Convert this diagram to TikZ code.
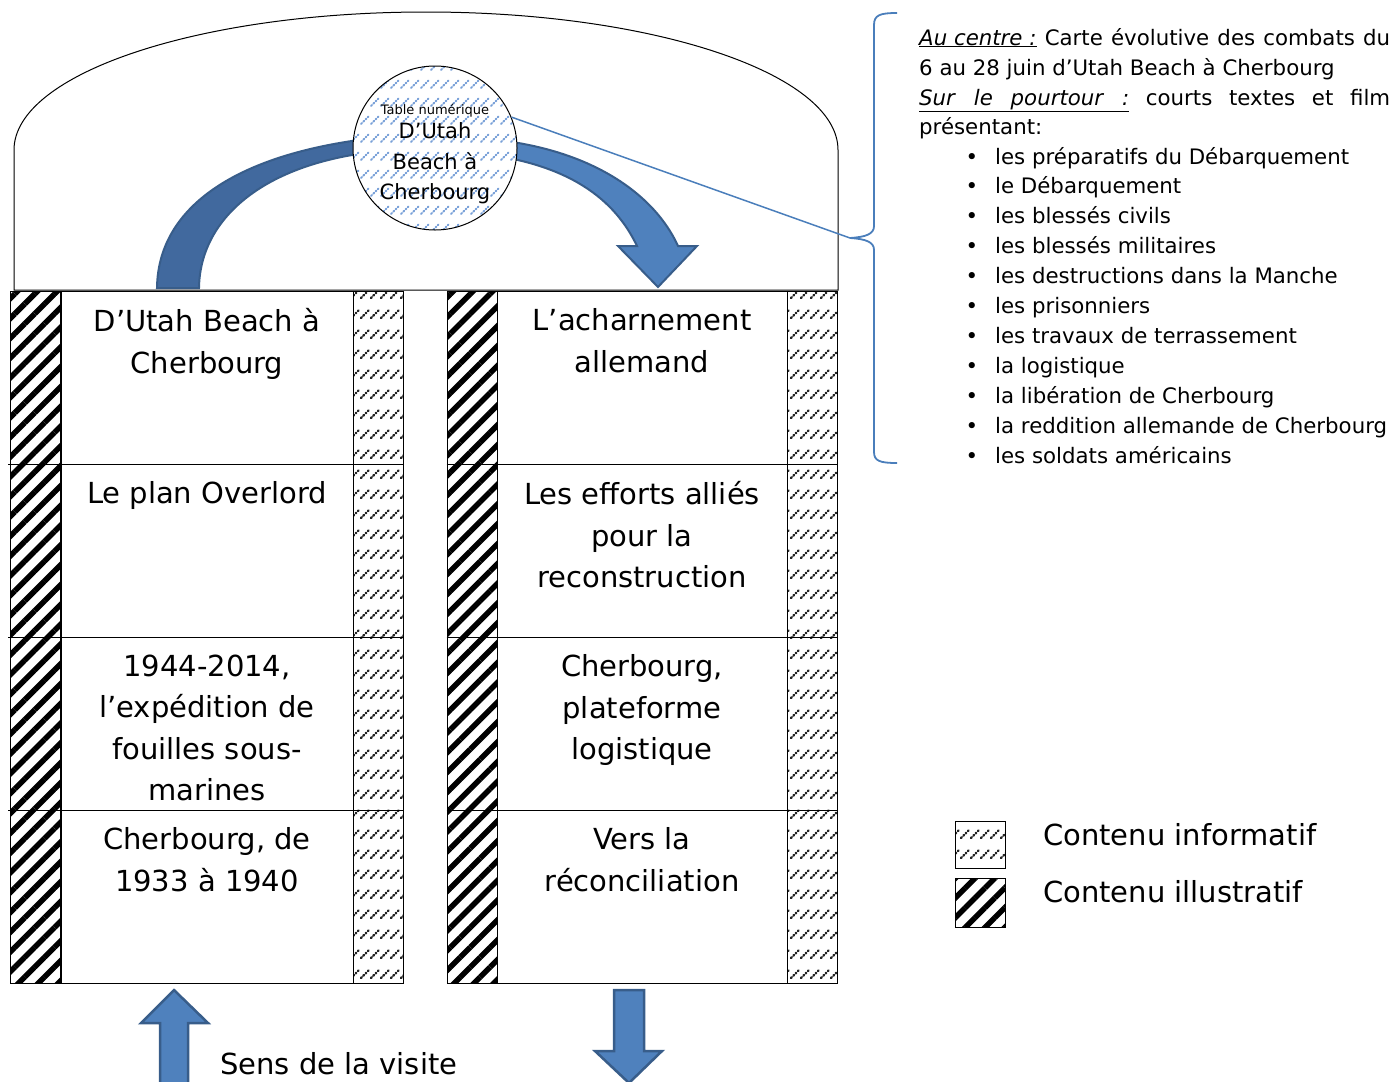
\documentclass[tikz,border=0pt]{standalone}
\usepackage{fontspec}
\setmainfont{DejaVu Sans}
\usetikzlibrary{patterns,patterns.meta}
\definecolor{arrowfill}{HTML}{4F81BD}
\definecolor{arrowedge}{HTML}{385D8A}
\definecolor{arrowdark}{HTML}{41699E}
\definecolor{linkblue}{HTML}{4A7EBB}
\definecolor{dotblue}{HTML}{78A0D8}
\pgfdeclarepatternformonly{infodash}{\pgfqpoint{-1bp}{-1bp}}{\pgfqpoint{11bp}{21bp}}{\pgfqpoint{10bp}{20bp}}{%
  \pgfsetlinewidth{2.2bp}\pgfsetroundcap\pgfsetdash{{1.2bp}{2.0bp}}{0bp}%
  \pgfpathmoveto{\pgfqpoint{1bp}{3bp}}\pgfpathlineto{\pgfqpoint{8.5bp}{10.5bp}}\pgfusepath{stroke}}
\pgfdeclarepatternformonly{infodashc}{\pgfqpoint{-1bp}{-1bp}}{\pgfqpoint{11bp}{19bp}}{\pgfqpoint{10bp}{18bp}}{%
  \pgfsetlinewidth{2bp}\pgfsetroundcap\pgfsetdash{{1.2bp}{2.0bp}}{0bp}%
  \pgfpathmoveto{\pgfqpoint{1bp}{3bp}}\pgfpathlineto{\pgfqpoint{8.5bp}{10.5bp}}\pgfusepath{stroke}}
\tikzset{
  info/.style={draw, line width=1bp, pattern=infodash, pattern color=black!85, inner sep=0},
  illus/.style={draw, line width=1bp, pattern={Lines[angle=45,distance=14bp,line width=5.5bp]}, inner sep=0},
  cellbox/.style={draw, line width=1bp, inner sep=0, minimum height=173bp},
  boxtext/.style={anchor=north, inner sep=0, align=center, font=\fontsize{29bp}{41.5bp}\selectfont},
  rtext/.style={anchor=base west, inner sep=0, font=\fontsize{21.3bp}{25bp}\selectfont},
  bigtext/.style={anchor=base west, inner sep=0, font=\fontsize{29bp}{34bp}\selectfont},
  bluearrow/.style={fill=arrowfill, draw=arrowedge, line width=2.5bp, line join=miter},
}
\begin{document}
\begin{tikzpicture}[x=1bp,y=-1bp]
\useasboundingbox (0,0) rectangle (1394,1081);
% dome
\draw[line width=1bp] (14,290) -- (14,150) arc[start angle=180,end angle=360,x radius=412,y radius=138] -- (838,290) -- cycle;
% curved arrow (left part and right part, passing behind the circle)
\filldraw[fill=arrowdark, draw=arrowedge, line width=2bp]
  (157,288) .. controls (158,200) and (250,148) .. (395,136)
  -- (395,150) .. controls (270,158) and (200,215) .. (199,288) -- cycle;
\filldraw[fill=arrowfill, draw=arrowedge, line width=2bp, line join=miter]
  (475,138) .. controls (590,145) and (655,195) .. (678,246)
  -- (697,246) -- (658,287) -- (618,246) -- (637,246)
  .. controls (615,200) and (570,163) .. (475,153) -- cycle;
% central table
\node[circle, draw, line width=1bp, preaction={fill=white}, pattern=infodashc, pattern color=dotblue,
      minimum size=164bp, inner sep=0] (C) at (435,148) {};
\node[inner sep=0, align=center, font=\fontsize{21bp}{30.5bp}\selectfont, yshift=-6bp]
  (Ct) at (C.center) {{\fontsize{13bp}{15bp}\selectfont Table numérique}\\[-6bp]D’Utah\\Beach à\\Cherbourg};
% bracket and link
\coordinate (brtip) at (850,238);
\draw[linkblue, line width=1.5bp] (C.22) -- (brtip);
\draw[linkblue, line width=1.8bp] (897,13) .. controls (880,13) and (874,15) .. (874,25) -- (874,226)
  .. controls (874,234) and (866,237) .. (brtip) .. controls (866,239) and (874,242) .. (874,250)
  -- (874,452) .. controls (874,461) and (880,463) .. (897,463);
% left column
\node[illus, minimum width=50bp, minimum height=692bp] (LI) at (36,637) {};
\node[info, minimum width=50bp, minimum height=692bp] (LC) at (378,637) {};
\node[cellbox, minimum width=292bp] (L1) at (207,377.5) {};
\node[cellbox, minimum width=292bp] (L2) at (207,550.5) {};
\node[cellbox, minimum width=292bp] (L3) at (207,723.5) {};
\node[cellbox, minimum width=292bp] (L4) at (207,896.5) {};
\foreach \r in {L1,L2,L3} \draw[line width=1bp] (LI.west |- \r.south) -- (LC.east |- \r.south);
\node[boxtext, yshift=-18bp] (L1t) at (L1.north) {D’Utah Beach à\\Cherbourg};
\node[boxtext, yshift=-18bp] (L2t) at (L2.north) {Le plan Overlord};
\node[boxtext, yshift=-18bp] (L3t) at (L3.north) {1944-2014,\\l’expédition de\\fouilles sous-\\marines};
\node[boxtext, yshift=-18bp] (L4t) at (L4.north) {Cherbourg, de\\1933 à 1940};
% right column
\node[illus, minimum width=50bp, minimum height=692bp] (RI) at (472,637) {};
\node[info, minimum width=50bp, minimum height=692bp] (RC) at (812,637) {};
\node[cellbox, minimum width=290bp] (R1) at (642,377.5) {};
\node[cellbox, minimum width=290bp] (R2) at (642,550.5) {};
\node[cellbox, minimum width=290bp] (R3) at (642,723.5) {};
\node[cellbox, minimum width=290bp] (R4) at (642,896.5) {};
\foreach \r in {R1,R2,R3} \draw[line width=1bp] (RI.west |- \r.south) -- (RC.east |- \r.south);
\node[boxtext, yshift=-18bp] (R1t) at (R1.north) {L’acharnement\\allemand};
\node[boxtext, yshift=-18bp] (R2t) at (R2.north) {Les efforts alliés\\pour la\\reconstruction};
\node[boxtext, yshift=-18bp] (R3t) at (R3.north) {Cherbourg,\\plateforme\\logistique};
\node[boxtext, yshift=-18bp] (R4t) at (R4.north) {Vers la\\réconciliation};
% visit direction
\draw[bluearrow] (160,1090) -- (160,1023) -- (141,1023) -- (174,990) -- (208,1023) -- (188,1023) -- (188,1090);
\draw[bluearrow] (614,990) -- (644,990) -- (644,1051) -- (662,1051) -- (629,1083) -- (595,1051) -- (614,1051) -- cycle;
\node[bigtext] (sens) at (220,1074) {Sens de la visite};
% legend
\node[info, minimum width=50bp, minimum height=47bp] (legI) at (980,844.5) {};
\node[illus, minimum width=50bp, minimum height=49bp] (legB) at (980,902.5) {};
\node[bigtext] (legIt) at (1043,845.5) {Contenu informatif};
\node[bigtext] (legBt) at (1043,902.5) {Contenu illustratif};
% description text
\node[rtext] (t1) at (919,45) {\makebox[471bp][s]{\underline{\textit{Au centre :}} Carte évolutive des combats du}};
\node[rtext] (t2) at (919,75) {6 au 28 juin d’Utah Beach à Cherbourg};
\node[rtext] (t3) at (919,105) {\hbox to 471bp{\underline{\hbox to 210bp{\textit{Sur}\hfil\textit{le}\hfil\textit{pourtour}\hfil\textit{:}}}\hfil courts\hfil textes\hfil et\hfil film}};
\node[rtext] (t4) at (919,134) {présentant:};
\foreach \t [count=\i from 0] in {les préparatifs du Débarquement, le Débarquement, les blessés civils, les blessés militaires, les destructions dans la Manche, les prisonniers, les travaux de terrassement, la logistique, la libération de Cherbourg, la reddition allemande de Cherbourg, les soldats américains}{
  \node[rtext] (b\i) at (995,164+29.9*\i) {\t};
  \node[rtext, anchor=base] (bu\i) at (972,164+29.9*\i) {•};
}
\end{tikzpicture}
\end{document}
